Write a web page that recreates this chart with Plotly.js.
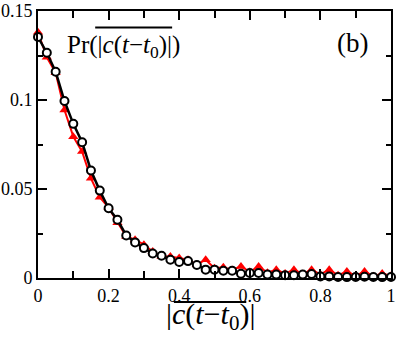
<!DOCTYPE html>
<html>
<head>
<meta charset="utf-8">
<script src="https://cdn.plot.ly/plotly-3.0.1.min.js"></script>
<style>html,body{margin:0;padding:0;background:#fff;}#chart{width:399px;height:341px;}</style>
</head>
<body>
<div id="chart"></div>
<script>
// x grid (|c(t-t0)| bins)
const xValues = [0,0.025,0.05,0.075,0.1,0.125,0.15,0.175,0.2,0.225,0.25,0.275,0.3,0.325,0.35,0.375,0.4,0.425,0.45,0.475,0.5,0.525,0.55,0.575,0.6,0.625,0.65,0.675,0.7,0.725,0.75,0.775,0.8,0.825,0.85,0.875,0.9,0.925,0.95,0.975,1.0];
// black open circles
const blackValues = [0.1354,0.1265,0.1159,0.0994,0.0866,0.0763,0.0604,0.0491,0.0392,0.0327,0.0239,0.0200,0.0168,0.0138,0.0125,0.0103,0.0090,0.0095,0.0073,0.0047,0.0047,0.0041,0.0041,0.0024,0.0028,0.0028,0.0019,0.0019,0.0015,0.0015,0.0019,0.0022,0.0009,0.0009,0.0006,0.0005,0.0006,0.0007,0.0006,0.0005,0.0006];
// red triangles
const redValues = [0.138,0.124,0.1153,0.0944,0.0794,0.071,0.056,0.0454,0.0395,0.031,0.0233,0.0215,0.0187,0.0149,0.0121,0.0121,0.0112,0.0103,0.0075,0.0103,0.0055,0.0060,0.0045,0.0065,0.0035,0.0065,0.0030,0.0047,0.0025,0.0047,0.0022,0.0047,0.0020,0.0047,0.0015,0.0037,0.0012,0.0037,0.0010,0.0025,0.0012];
const xTicks = [0,0.2,0.4,0.6,0.8,1];
const xTickText = ['0','0.2','0.4','0.6','0.8','1'];
const yTicks = [0,0.05,0.1,0.15];
const yTickText = ['0','0.05','0.1','0.15'];

const serif = 'Times New Roman';
const traces = [
  {x: xValues, y: redValues, type: 'scatter', mode: 'lines+markers',
   line: {color: '#ff0000', width: 2},
   marker: {symbol: 'triangle-up', size: 9, color: '#ff0000', line: {width: 0}},
   cliponaxis: false, showlegend: false},
  {x: xValues, y: blackValues, type: 'scatter', mode: 'lines+markers',
   line: {color: '#000000', width: 2.5},
   marker: {symbol: 'circle', size: 8, color: '#ffffff', line: {color: '#000000', width: 2}},
   cliponaxis: false, showlegend: false}
];
function axisCommon() {
  return {
    showline: true, linecolor: '#000', linewidth: 2, mirror: 'ticks',
    ticks: 'inside', tickcolor: '#000', tickwidth: 2, ticklen: 9,
    showgrid: false, zeroline: false,
    tickfont: {family: serif, size: 18, color: '#000'}
  };
}
const layout = {
  width: 399, height: 341,
  margin: {l: 38, r: 8, t: 11, b: 63},
  font: {family: serif, size: 18, color: '#000'},
  paper_bgcolor: '#fff', plot_bgcolor: '#fff',
  xaxis: Object.assign(axisCommon(), {
    range: [0, 1], tickvals: xTicks, ticktext: xTickText,
    minor: {ticks: 'inside', dtick: 0.1, tick0: 0, ticklen: 7, tickcolor: '#000', tickwidth: 2}
  }),
  yaxis: Object.assign(axisCommon(), {
    range: [0, 0.15], tickvals: yTicks, ticktext: yTickText,
    minor: {ticks: 'inside', dtick: 0.025, tick0: 0, ticklen: 5, tickcolor: '#000', tickwidth: 2}
  }),
  annotations: [
    {text: 'Pr(|<i>c</i>(<i>t</i>−<i>t</i><sub>0</sub>)|)', xref: 'paper', yref: 'paper', x: 0.241, y: 0.868,
     xanchor: 'center', yanchor: 'middle', showarrow: false, font: {family: serif, size: 25, color: '#000'}},
    {text: '(b)', xref: 'paper', yref: 'paper', x: 0.891, y: 0.879,
     xanchor: 'center', yanchor: 'middle', showarrow: false, font: {family: serif, size: 27, color: '#000'}},
    {text: '|<i>c</i>(<i>t</i>−<i>t</i><sub>0</sub>)|', xref: 'paper', yref: 'paper', x: 0.489, y: -0.141,
     xanchor: 'center', yanchor: 'middle', showarrow: false, font: {family: serif, size: 30, color: '#000'}}
  ],
  shapes: [
    {type: 'line', xref: 'paper', yref: 'paper', x0: 0.162, x1: 0.380, y0: 0.938, y1: 0.938, line: {color: '#000', width: 2}},
    {type: 'line', xref: 'paper', yref: 'paper', x0: 0.385, x1: 0.59, y0: -0.0897, y1: -0.0897, line: {color: '#000', width: 2}}
  ]
};
Plotly.newPlot('chart', traces, layout, {staticPlot: true, displayModeBar: false});
</script>
</body>
</html>
